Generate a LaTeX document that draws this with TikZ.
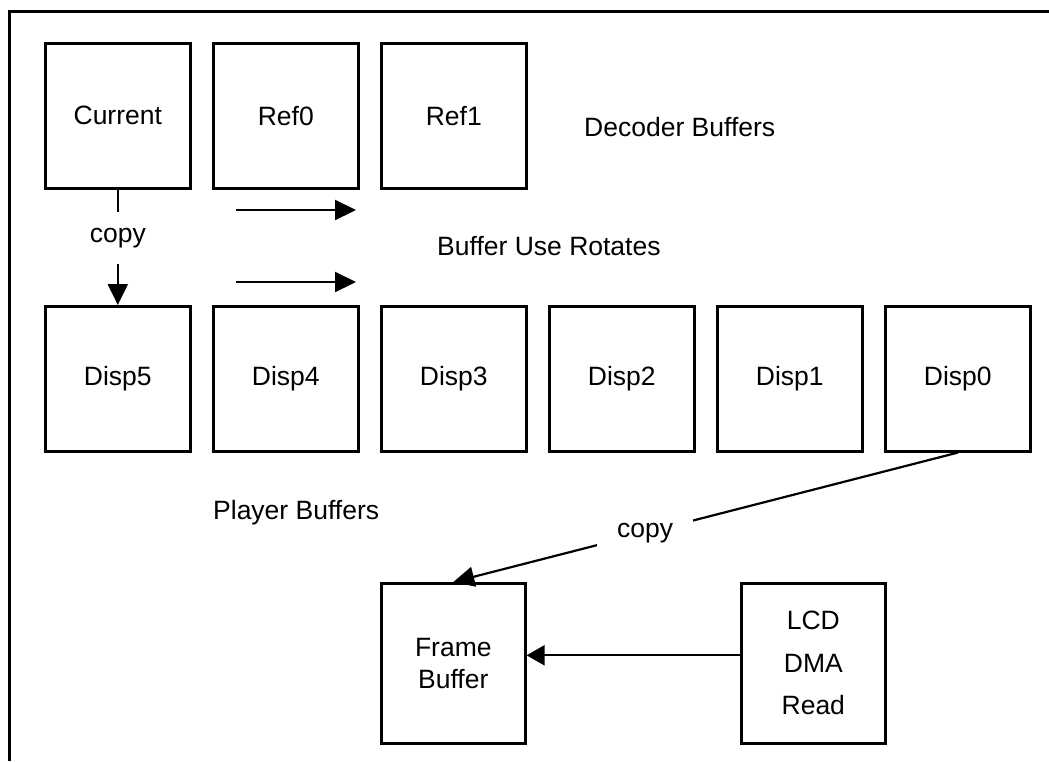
\documentclass[tikz,border=0pt]{standalone}
\usepackage{fontspec}
\setmainfont{Liberation Sans}
\usetikzlibrary{arrows.meta}
\begin{document}
\begin{tikzpicture}[x=1pt,y=-1pt,
  every node/.style={font=\fontsize{26.5}{32}\selectfont},
  buf/.style={draw,line width=2.6pt,minimum width=145pt,minimum height=145pt,inner sep=0pt,anchor=north west},
  tallbox/.style={draw,line width=2.6pt,minimum width=144pt,minimum height=160pt,inner sep=0pt,anchor=north west,align=center},
  conn/.style={line width=2.2pt,-{Triangle[length=21pt,width=20pt]}},
  lbl/.style={fill=white,inner xsep=20pt,inner ysep=16pt},
  freetext/.style={anchor=base west,inner sep=0pt}
]
\useasboundingbox (0,0) rectangle (1049,761);
% frame
\draw[line width=3pt] (9,761) -- (9,11) -- (1049,11);

% decoder buffers
\node[buf] (cur) at (44,42) {Current};
\node[buf] (ref0) at (212,42) {Ref0};
\node[buf] (ref1) at (380,42) {Ref1};
\node[freetext] (dec) at (584,136) {Decoder Buffers};

% player buffers
\node[buf] (d5) at (44,305) {Disp5};
\node[buf] (d4) at (212,305) {Disp4};
\node[buf] (d3) at (380,305) {Disp3};
\node[buf] (d2) at (548,305) {Disp2};
\node[buf] (d1) at (716,305) {Disp1};
\node[buf] (d0) at (884,305) {Disp0};
\node[freetext] (play) at (213,519) {Player Buffers};

% rotation arrows
\coordinate (r1s) at (236,210);
\coordinate (r1e) at (356,210);
\coordinate (r2s) at (236,282);
\coordinate (r2e) at (356,282);
\draw[conn] (r1s) -- (r1e);
\draw[conn] (r2s) -- (r2e);
\node[freetext] (rot) at (437,255) {Buffer Use Rotates};

% frame buffer and LCD
\node[tallbox] (fb) at (380,582) {Frame\\Buffer};
\node[tallbox,font=\fontsize{26.5}{42.5}\selectfont] (lcd) at (740,582) {LCD\\DMA\\Read};

% connectors
\draw[conn] (cur.south) -- node[lbl,pos=0.42] (c1) {copy} (d5.north);
\draw[conn] (d0.south) -- node[lbl,pos=0.62] (c2) {copy} (fb.north);
\draw[line width=2.2pt,-{Triangle[length=18pt,width=20pt]}] ([yshift=8pt]lcd.west) -- ([yshift=8pt]fb.east);
\end{tikzpicture}
\end{document}
